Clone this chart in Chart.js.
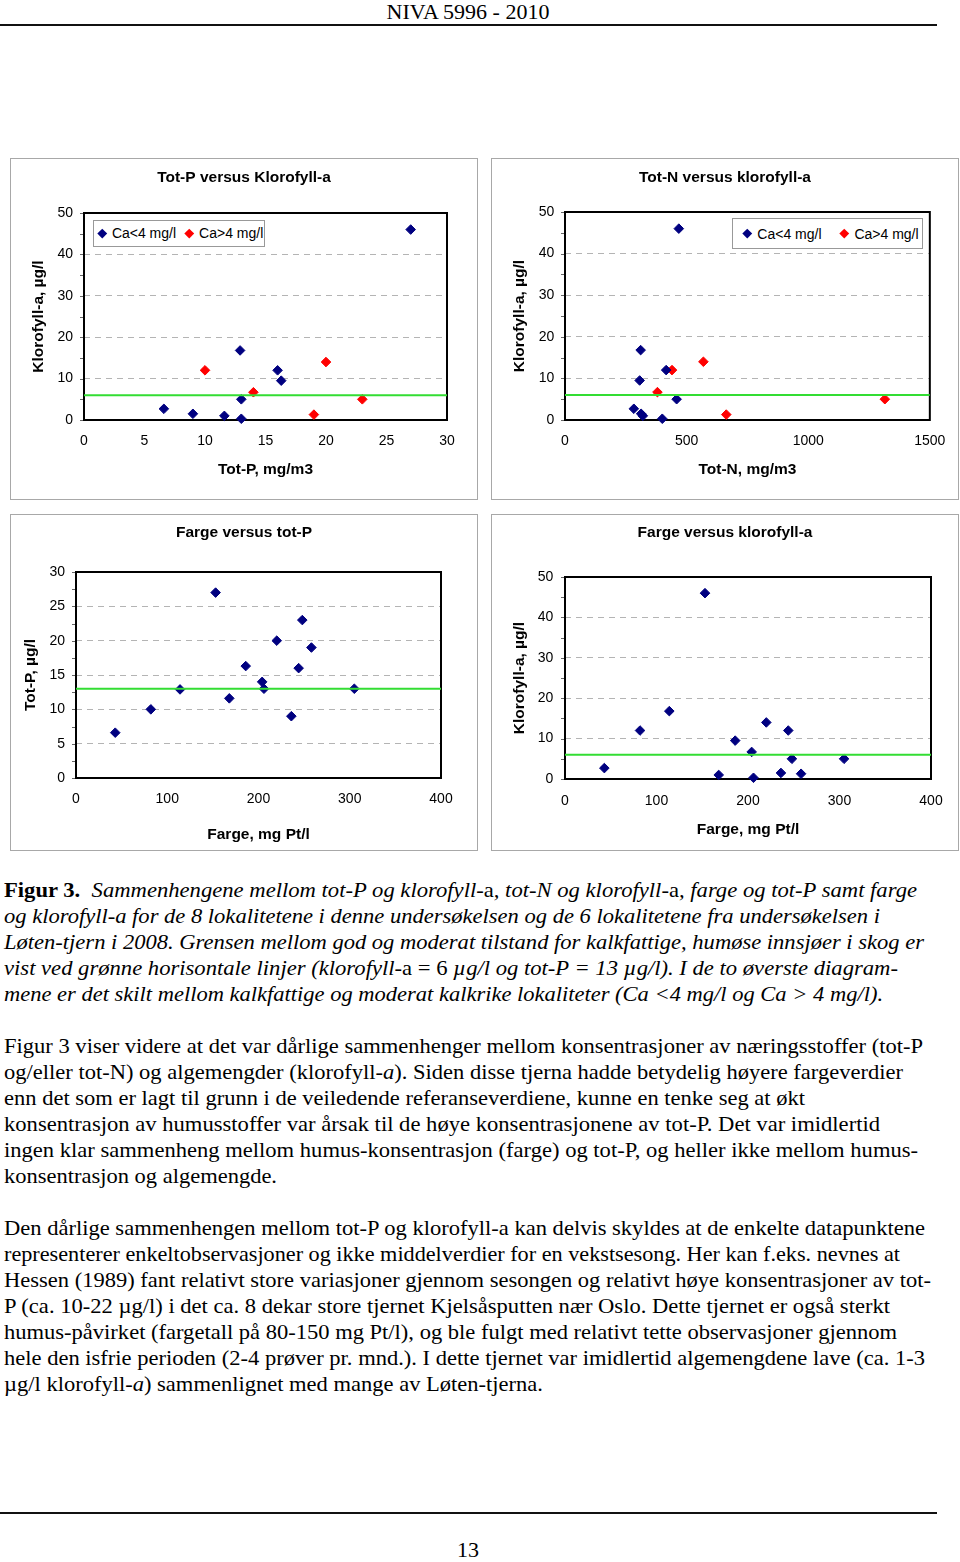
<!DOCTYPE html>
<html>
<head>
<meta charset="utf-8">
<title>NIVA 5996 - 2010, Figur 3</title>
<script src="https://cdn.jsdelivr.net/npm/chart.js@4.4.0/dist/chart.umd.min.js"></script>
<style>
html,body{margin:0;padding:0;background:#fff;}
body{width:960px;height:1562px;position:relative;overflow:hidden;font-family:"Liberation Serif","Times New Roman",serif;color:#000;}
.box{position:absolute;border:1px solid #a8a8a8;box-sizing:border-box;background:#fff;}
.box canvas{position:absolute;left:0;top:0;}
.line{position:absolute;left:4px;white-space:nowrap;font-size:22px;line-height:26px;transform-origin:0 0;}
.rule{position:absolute;left:0;width:937px;height:2px;background:#111;}
.center{position:absolute;left:0;width:936px;text-align:center;font-size:22px;line-height:26px;white-space:nowrap;}
.legend{position:absolute;border:1px solid #999;background:#fff;display:flex;align-items:center;box-sizing:border-box;white-space:nowrap;font-family:"Liberation Sans",Arial,sans-serif;font-size:14px;color:#000;}
.legend .item{display:flex;align-items:center;}
.legend .dia{display:inline-block;width:6.5px;height:6.5px;transform:rotate(45deg);}
</style>
</head>
<body>

<div class="center" style="top:-1px;">NIVA 5996 - 2010</div>
<div class="rule" style="top:24px;"></div>

<div class="box" style="left:10px;top:158px;width:468px;height:342px;"><canvas id="c1" width="466" height="340"></canvas></div>
<div class="box" style="left:491px;top:158px;width:468px;height:342px;"><canvas id="c2" width="466" height="340"></canvas></div>
<div class="box" style="left:10px;top:514px;width:468px;height:337px;"><canvas id="c3" width="466" height="335"></canvas></div>
<div class="box" style="left:491px;top:514px;width:468px;height:337px;"><canvas id="c4" width="466" height="335"></canvas></div>

<div class="line" style="top:877px;" data-r="917"><b>Figur 3.</b>&nbsp; <i>Sammenhengene mellom tot-P og klorofyll-</i>a<i>, tot-N og klorofyll-</i>a<i>, farge og tot-P samt farge</i></div>
<div class="line" style="top:903px;" data-r="880"><i>og klorofyll-a for de 8 lokalitetene i denne undersøkelsen og de 6 lokalitetene fra undersøkelsen i</i></div>
<div class="line" style="top:929px;" data-r="924"><i>Løten-tjern i 2008. Grensen mellom god og moderat tilstand for kalkfattige, humøse innsjøer i skog er</i></div>
<div class="line" style="top:955px;" data-r="898"><i>vist ved grønne horisontale linjer (klorofyll-</i>a = 6 <i>µg/l og tot-P = 13 µg/l). I de to øverste diagram-</i></div>
<div class="line" style="top:981px;" data-r="883"><i>mene er det skilt mellom kalkfattige og moderat kalkrike lokaliteter (Ca &lt;4 mg/l og Ca &gt; 4 mg/l).</i></div>

<div class="line" style="top:1033px;" data-r="923">Figur 3 viser videre at det var dårlige sammenhenger mellom konsentrasjoner av næringsstoffer (tot-P</div>
<div class="line" style="top:1059px;" data-r="903">og/eller tot-N) og algemengder (klorofyll-<i>a</i>). Siden disse tjerna hadde betydelig høyere fargeverdier</div>
<div class="line" style="top:1085px;" data-r="805">enn det som er lagt til grunn i de veiledende referanseverdiene, kunne en tenke seg at økt</div>
<div class="line" style="top:1111px;" data-r="880">konsentrasjon av humusstoffer var årsak til de høye konsentrasjonene av tot-P. Det var imidlertid</div>
<div class="line" style="top:1137px;" data-r="918">ingen klar sammenheng mellom humus-konsentrasjon (farge) og tot-P, og heller ikke mellom humus-</div>
<div class="line" style="top:1163px;" data-r="277">konsentrasjon og algemengde.</div>

<div class="line" style="top:1215px;" data-r="925">Den dårlige sammenhengen mellom tot-P og klorofyll-a kan delvis skyldes at de enkelte datapunktene</div>
<div class="line" style="top:1241px;" data-r="900">representerer enkeltobservasjoner og ikke middelverdier for en vekstsesong. Her kan f.eks. nevnes at</div>
<div class="line" style="top:1267px;" data-r="931">Hessen (1989) fant relativt store variasjoner gjennom sesongen og relativt høye konsentrasjoner av tot-</div>
<div class="line" style="top:1293px;" data-r="890">P (ca. 10-22 µg/l) i det ca. 8 dekar store tjernet Kjelsåsputten nær Oslo. Dette tjernet er også sterkt</div>
<div class="line" style="top:1319px;" data-r="897">humus-påvirket (fargetall på 80-150 mg Pt/l), og ble fulgt med relativt tette observasjoner gjennom</div>
<div class="line" style="top:1345px;" data-r="925">hele den isfrie perioden (2-4 prøver pr. mnd.). I dette tjernet var imidlertid algemengdene lave (ca. 1-3</div>
<div class="line" style="top:1371px;" data-r="543">µg/l klorofyll-<i>a</i>) sammenlignet med mange av Løten-tjerna.</div>

<div class="rule" style="top:1512px;"></div>
<div class="center" style="top:1537px;">13</div>

<script>
// ---------------- DATA ----------------
// Sites with Ca < 4 mg/l (9 lakes)
const lowTotP  = [6.6, 9.0, 11.6, 12.9, 13.0, 13.0, 16.0, 16.3, 27.0];
const lowChl   = [2.7, 1.5, 1.0, 16.8, 5.0, 0.3, 12.0, 9.5, 46.0];
const lowTotN  = [283, 313, 320, 311, 459, 400, 416, 307, 468];
const lowFarge = [43, 236, 168, 114, 305, 206, 244, 186, 153];
// Sites with Ca > 4 mg/l (5 lakes)
const highTotP  = [10.0, 14.0, 19.0, 20.0, 23.0];
const highChl   = [12.0, 6.7, 1.3, 14.0, 5.0];
const highTotN  = [440, 380, 663, 569, 1315];
const highFarge = [82, 204, 258, 220, 248];

const seriesLabels = ['Ca<4 mg/l', 'Ca>4 mg/l'];
const chlLimit  = 6;   // klorofyll-a, µg/l (god/moderat)
const totPLimit = 13;  // tot-P, µg/l (god/moderat)

// axis ranges (tick labels follow from min / max / step)
const axisTotP  = {min: 0, max: 30,   step: 5};
const axisTotN  = {min: 0, max: 1500, step: 500};
const axisChl   = {min: 0, max: 50,   step: 10};
const axisFarge = {min: 0, max: 400,  step: 100};
const axisTotPy = {min: 0, max: 30,   step: 5};

const chartTitles = ['Tot-P versus Klorofyll-a', 'Tot-N versus klorofyll-a', 'Farge versus tot-P', 'Farge versus klorofyll-a'];
const axisTitles = {
  totP: 'Tot-P, mg/m3', totN: 'Tot-N, mg/m3', farge: 'Farge, mg Pt/l',
  chl: 'Klorofyll-a, µg/l', totPy: 'Tot-P, µg/l'
};

// ---------------- HELPERS ----------------
const NAVY = '#000080', RED = '#ff0000', GREEN = '#33dd33';
const SANS = "'Liberation Sans', Arial, sans-serif";
const pts = (xs, ys) => xs.map((x, i) => ({x: x, y: ys[i]}));

function scatterSet(label, data, color, inLegend) {
  return {
    label: label, data: data, inLegend: inLegend, order: 1, clip: false, xAxisID: 'x', yAxisID: 'y',
    pointStyle: 'rectRot', pointRadius: 4.8, pointHoverRadius: 4.8,
    backgroundColor: color, borderColor: color, borderWidth: 1, showLine: false
  };
}
function limitSet(value, ax) {
  return {
    label: 'limit', data: [{x: ax.min, y: value}, {x: ax.max, y: value}], inLegend: false, order: 0,
    xAxisID: 'x', yAxisID: 'y',
    showLine: true, borderColor: GREEN, borderWidth: 2, pointRadius: 0, backgroundColor: GREEN
  };
}

const framePlugin = {
  id: 'frame',
  beforeDatasetsDraw(chart) {
    const {ctx, chartArea: a} = chart;
    const ys = chart.scales.y;
    ctx.save();
    ctx.strokeStyle = '#666'; ctx.lineWidth = 1;
    const step = ys.options.ticks.stepSize / 2;
    for (let v = ys.min; v <= ys.max + 1e-9; v += step) {
      const p = Math.round(ys.getPixelForValue(v)) + 0.5;
      ctx.beginPath(); ctx.moveTo(a.left - 4, p); ctx.lineTo(a.left, p); ctx.stroke();
    }
    ctx.strokeStyle = '#000'; ctx.lineWidth = 2;
    ctx.strokeRect(a.left, a.top, a.right - a.left, a.bottom - a.top);
    ctx.restore();
  }
};

const htmlLegend = {
  id: 'htmlLegend',
  afterUpdate(chart, args, opts) {
    if (!opts || !opts.show) return;
    const host = chart.canvas.parentNode;
    let el = host.querySelector('.legend');
    if (!el) { el = document.createElement('div'); el.className = 'legend'; host.appendChild(el); }
    el.innerHTML = '';
    chart.data.datasets.forEach(ds => {
      if (!ds.inLegend) return;
      const item = document.createElement('span'); item.className = 'item';
      const d = document.createElement('span'); d.className = 'dia';
      d.style.background = ds.backgroundColor; d.style.marginRight = opts.textGap + 'px';
      const t = document.createElement('span'); t.textContent = ds.label;
      item.appendChild(d); item.appendChild(t); el.appendChild(item);
    });
    const a = chart.chartArea;
    el.style.width = opts.width + 'px';
    el.style.height = opts.height + 'px';
    el.style.top = (a.top + opts.dy) + 'px';
    el.style.left = (opts.anchor === 'left' ? a.left + opts.dx : a.right - opts.dx - opts.width) + 'px';
    el.style.paddingLeft = opts.padL + 'px';
    el.style.gap = opts.gap + 'px';
  }
};

// L: layout numbers in canvas pixels
function makeChart(id, title, xAx, yAx, xTitle, yTitle, datasets, L, legend) {
  const FS = 14, LH = FS * 1.2;      // tick labels
  const TFS = 15.5, TLH = TFS * 1.2; // titles
  return new Chart(document.getElementById(id), {
    type: 'scatter',
    data: {datasets: datasets},
    plugins: [framePlugin, htmlLegend],
    options: {
      responsive: false, animation: false, devicePixelRatio: 1, events: [],
      layout: {padding: 0},
      plugins: {
        legend: {display: false},
        tooltip: {enabled: false},
        title: {
          display: true, text: title, color: '#000',
          font: {family: SANS, size: TFS, weight: 'bold'},
          padding: {top: L.titleY - TLH / 2, bottom: L.T - L.titleY - TLH / 2}
        },
        htmlLegend: legend || {show: false}
      },
      scales: {
        x: {
          type: 'linear', position: 'bottom', min: xAx.min, max: xAx.max,
          afterFit: s => { s.height = L.H - L.B; },
          grid: {display: false, drawTicks: false},
          border: {display: false},
          ticks: {stepSize: xAx.step, color: '#000', padding: L.xTick - LH / 2, maxRotation: 0,
                  format: {useGrouping: false}, font: {family: SANS, size: FS}},
          title: {display: true, text: xTitle, color: '#000',
                  font: {family: SANS, size: TFS, weight: 'bold'},
                  padding: {top: 0, bottom: L.xTitle - TLH / 2}}
        },
        y: {
          type: 'linear', position: 'left', min: yAx.min, max: yAx.max,
          afterFit: s => { s.width = L.L; },
          grid: {display: true, drawTicks: false, color: '#b4b4b4', lineWidth: 1},
          border: {display: false, dash: [6, 5]},
          ticks: {stepSize: yAx.step, color: '#000', padding: L.yTick,
                  format: {useGrouping: false}, font: {family: SANS, size: FS}},
          title: {display: true, text: yTitle, color: '#000',
                  font: {family: SANS, size: TFS, weight: 'bold'},
                  padding: {top: L.yTitle - TLH / 2, bottom: 0}}
        },
        // empty right-hand margin (keeps the chart title centred on the whole box)
        yr: {
          type: 'linear', position: 'right', min: yAx.min, max: yAx.max,
          afterFit: s => { s.width = L.W - L.R; },
          grid: {display: false, drawTicks: false},
          border: {display: false},
          ticks: {display: false},
          title: {display: false}
        }
      }
    }
  });
}

// ---------------- CHARTS ----------------
makeChart('c1', chartTitles[0], axisTotP, axisChl, axisTitles.totP, axisTitles.chl, [
  limitSet(chlLimit, axisTotP),
  scatterSet(seriesLabels[0], pts(lowTotP, lowChl), NAVY, true),
  scatterSet(seriesLabels[1], pts(highTotP, highChl), RED, true)
], {W: 466, H: 340, L: 73, R: 436, T: 54, B: 261, titleY: 19, yTick: 11, xTick: 21.3, xTitle: 29, yTitle: 28},
{show: true, anchor: 'left', dx: 8.5, dy: 6.5, width: 172, height: 27, padL: 5.7, gap: 10.3, textGap: 6.2});

makeChart('c2', chartTitles[1], axisTotN, axisChl, axisTitles.totN, axisTitles.chl, [
  limitSet(chlLimit, axisTotN),
  scatterSet(seriesLabels[0], pts(lowTotN, lowChl), NAVY, true),
  scatterSet(seriesLabels[1], pts(highTotN, highChl), RED, true)
], {W: 466, H: 340, L: 73, R: 440, T: 53, B: 261, titleY: 19, yTick: 10.7, xTick: 21, xTitle: 29.3, yTitle: 27.3},
{show: true, anchor: 'right', dx: 6.7, dy: 6, width: 191, height: 31, padL: 10.7, gap: 19.4, textGap: 7});

makeChart('c3', chartTitles[2], axisFarge, axisTotPy, axisTitles.farge, axisTitles.totPy, [
  limitSet(totPLimit, axisFarge),
  scatterSet('Farge / tot-P', pts(lowFarge.concat(highFarge), lowTotP.concat(highTotP)), NAVY, false)
], {W: 466, H: 335, L: 65, R: 430, T: 57, B: 263, titleY: 18, yTick: 11, xTick: 21.3, xTitle: 15.3, yTitle: 19.7});

makeChart('c4', chartTitles[3], axisFarge, axisChl, axisTitles.farge, axisTitles.chl, [
  limitSet(chlLimit, axisFarge),
  scatterSet('Farge / klorofyll-a', pts(lowFarge.concat(highFarge), lowChl.concat(highChl)), NAVY, false)
], {W: 466, H: 335, L: 73, R: 439, T: 62, B: 264, titleY: 18, yTick: 11.7, xTick: 21.7, xTitle: 20.7, yTitle: 27.3});

// ---------------- TEXT FITTING ----------------
function fitLines() {
  document.querySelectorAll('.line').forEach(el => {
    el.style.transform = 'none';
    const w = el.getBoundingClientRect().width;
    const target = (+el.dataset.r) - el.offsetLeft;
    if (w > 0) el.style.transform = 'scaleX(' + (target / w).toFixed(4) + ')';
  });
}
fitLines();
if (document.fonts && document.fonts.ready) document.fonts.ready.then(fitLines);
</script>
</body>
</html>
